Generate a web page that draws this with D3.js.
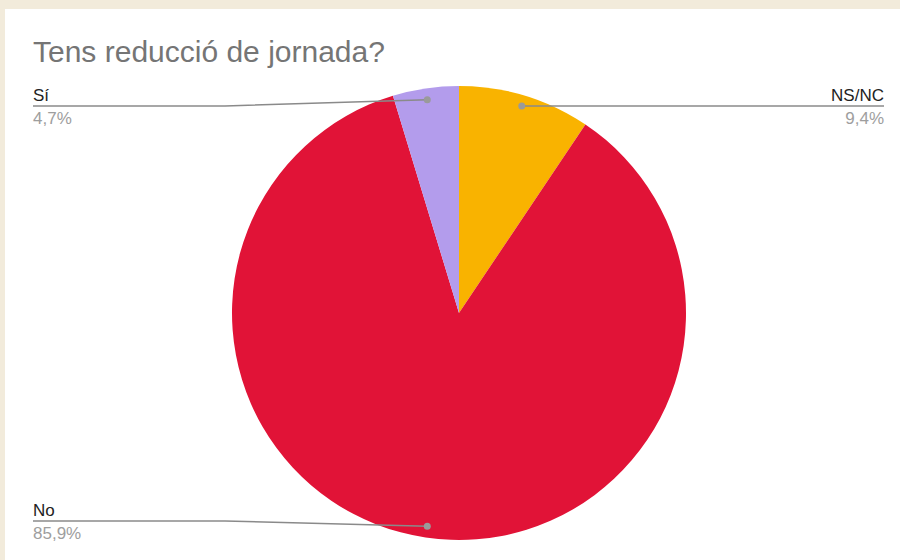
<!DOCTYPE html>
<html>
<head>
<meta charset="utf-8">
<script src="https://cdn.jsdelivr.net/npm/d3@7"></script>
<style>
  html, body { margin: 0; padding: 0; background: #f2ebdb; }
  svg { display: block; }
</style>
</head>
<body>
<div class="chart"></div>
<script>
const WIDTH = 900
const HEIGHT = 560

// dades
const categories = ["NS/NC", "No", "Sí"];
const values = [9.4, 85.9, 4.7];
const labels = ["9,4%", "85,9%", "4,7%"];
const colors = ["#f9b300", "#e11337", "#b39cec"];

const cx = 459, cy = 313, radius = 227;

const svg = d3.select("div.chart")
            .append("svg")
            .attr("width", WIDTH)
            .attr("height", HEIGHT)
            .style("font-family", "'Liberation Sans', Arial, sans-serif");

// panell blanc
svg.append("rect")
   .attr("x", 5)
   .attr("y", 9)
   .attr("width", WIDTH - 5)
   .attr("height", HEIGHT - 9)
   .attr("fill", "#ffffff");

svg.append("text")
   .attr("x", 33)
   .attr("y", 62)
   .attr("font-size", 30)
   .attr("fill", "#757575")
   .text("Tens reducció de jornada?");

const pie = d3.pie().sort(null).value(d => d.value);
const slices = pie(categories.map((c, i) => ({ cat: c, value: values[i], label: labels[i], color: colors[i] })));

const arc = d3.arc().innerRadius(0).outerRadius(radius);
const dotArc = d3.arc().innerRadius(radius * 0.95).outerRadius(radius * 0.95);

const g = svg.append("g").attr("transform", `translate(${cx},${cy})`);

g.selectAll("path.slice")
 .data(slices)
 .enter()
 .append("path")
 .attr("class", "slice")
 .attr("d", arc)
 .attr("fill", d => d.data.color);

// etiquetes amb línia guia
const line = d3.line();
slices.forEach(d => {
  const [dx, dy] = dotArc.centroid(d);
  const px = cx + dx, py = cy + dy;
  const mid = (d.startAngle + d.endAngle) / 2;
  const left = mid > Math.PI;
  const ly = py < cy ? 106 : 521;
  let pts, tx, anchor;
  if (left) {
    pts = [[px, py], [225, ly], [33, ly]];
    tx = 33; anchor = "start";
  } else {
    pts = [[px, ly], [884, ly]];
    tx = 884; anchor = "end";
  }
  svg.append("path")
     .attr("d", line(pts))
     .attr("fill", "none")
     .attr("stroke", "#8a8a8a")
     .attr("stroke-width", 1.5);
  svg.append("circle")
     .attr("cx", px)
     .attr("cy", left ? py : ly)
     .attr("r", 3.5)
     .attr("fill", "#9a9a9a");
  svg.append("text")
     .attr("x", tx)
     .attr("y", ly - 5)
     .attr("text-anchor", anchor)
     .attr("font-size", 17)
     .attr("fill", "#222222")
     .text(d.data.cat);
  svg.append("text")
     .attr("x", tx)
     .attr("y", ly + 18)
     .attr("text-anchor", anchor)
     .attr("font-size", 17)
     .attr("fill", "#9e9e9e")
     .text(d.data.label);
});
</script>
</body>
</html>
